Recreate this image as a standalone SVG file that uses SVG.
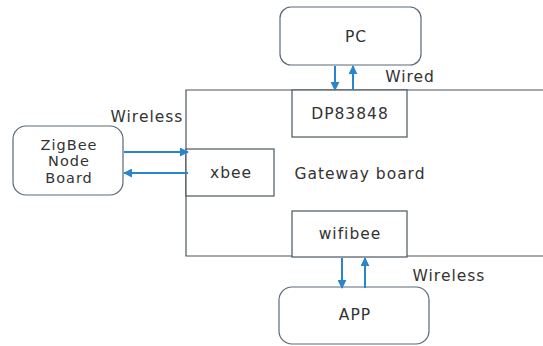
<svg xmlns="http://www.w3.org/2000/svg" width="543" height="346" viewBox="0 0 543 346">
<style>
.r{fill:#fff;stroke:#5a6878;stroke-width:1.2}
.b{fill:#fff;stroke:#4a5560;stroke-width:1.2}
.t{font-family:"DejaVu Sans","Noto Sans",sans-serif;font-size:15.5px;letter-spacing:1px;fill:#333;text-anchor:middle}
.z{font-size:14.5px}
.c{stroke:#2a86cc;stroke-width:2;fill:none;marker-end:url(#a)}
</style>
<defs>
<marker id="a" viewBox="0 0 10 10" refX="9" refY="5" markerWidth="4.5" markerHeight="4.5" orient="auto" markerUnits="strokeWidth">
<path d="M0,0L10,5L0,10z" fill="#2a86cc"/>
</marker>
</defs>
<rect width="543" height="346" fill="#fff"/>
<g id="gateway">
<path class="b" d="M560,90H186V256H560" fill="none"/>
<text class="t" x="360" y="179">Gateway board</text>
</g>
<g id="pc">
<rect class="r" x="280" y="7" width="141" height="58" rx="11"/>
<text class="t" x="356" y="42">PC</text>
</g>
<g id="dp83848">
<rect class="b" x="292" y="90" width="115" height="47"/>
<text class="t" x="350" y="119">DP83848</text>
</g>
<g id="zigbee">
<rect class="r" x="13" y="126" width="110" height="69" rx="13"/>
<text class="t z" x="69" y="150">ZigBee</text>
<text class="t z" x="69" y="166">Node</text>
<text class="t z" x="69" y="183">Board</text>
</g>
<g id="xbee">
<rect class="b" x="186" y="149" width="88" height="47"/>
<text class="t" x="231" y="178">xbee</text>
</g>
<g id="wifibee">
<rect class="b" x="292" y="211" width="115" height="46"/>
<text class="t" x="350" y="239">wifibee</text>
</g>
<g id="app">
<rect class="r" x="279" y="287" width="150" height="57" rx="13"/>
<text class="t" x="355" y="320">APP</text>
</g>
<g id="connectors">
<line class="c" x1="335" y1="66" x2="335" y2="90"/>
<line class="c" x1="353" y1="90" x2="353" y2="66"/>
<line class="c" x1="124" y1="152" x2="188" y2="152"/>
<line class="c" x1="188" y1="173" x2="124" y2="173"/>
<line class="c" x1="342" y1="258" x2="342" y2="288"/>
<line class="c" x1="365" y1="288" x2="365" y2="258"/>
<text class="t" x="410" y="82">Wired</text>
<text class="t" x="147" y="122">Wireless</text>
<text class="t" x="449" y="281">Wireless</text>
</g>
</svg>
